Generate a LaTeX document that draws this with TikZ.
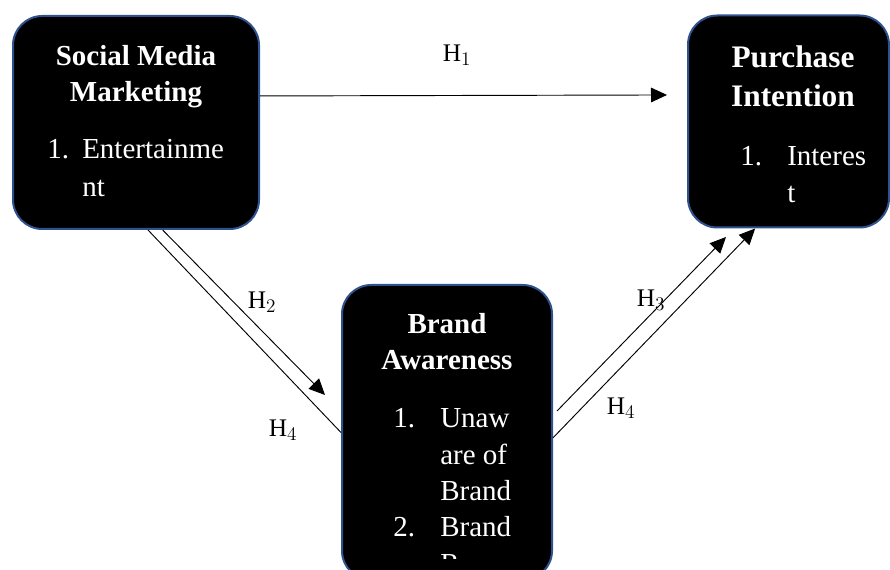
\documentclass[tikz,border=0pt]{standalone}
\usepackage{fontspec}
\setmainfont{Liberation Serif}
\usetikzlibrary{arrows.meta}

\definecolor{boxblue}{RGB}{47,82,143}

\begin{document}
\begin{tikzpicture}[x=0.75pt,y=-0.75pt,
    varbox/.style={draw=boxblue, line width=1.5pt, fill=black, rounded corners=22pt, inner sep=0pt},
    hyp/.style={line width=0.7pt, -{Triangle[length=12pt,width=11pt]}},
    plain/.style={line width=0.7pt},
    title/.style={text=white, inner sep=0pt, anchor=base, font=\fontsize{21.75}{26}\selectfont\bfseries},
    item/.style={text=white, inner sep=0pt, anchor=base west, font=\fontsize{21.75}{26}\selectfont},
    hlab/.style={inner sep=0pt, font=\fontsize{19}{22}\selectfont}]
\clip (0,0) rectangle (890,570);

% Social Media Marketing
\node[varbox, minimum width=184.5pt, minimum height=159.75pt] (smm) at (136,122.5) {};
\node[title] (smmA) at (136,66) {Social Media};
\node[title] (smmB) at (136,102) {Marketing};
\node[item] (smmN) at (47,159) {1.};
\node[item] (smmC) at (82,159) {Entertainme};
\node[item] (smmD) at (82,197) {nt};

% Purchase Intention
\node[varbox, minimum width=150.75pt, minimum height=159pt] (pi) at (788.5,121.5) {};
\node[title, font=\fontsize{23.5}{28}\selectfont\bfseries] (piA) at (793,68) {Purchase};
\node[title, font=\fontsize{23.5}{28}\selectfont\bfseries] (piB) at (793,107) {Intention};
\node[item] (piN) at (740,166) {1.};
\node[item] (piC) at (787,166) {Interes};
\node[item] (piD) at (787,203) {t};

% Brand Awareness
\node[varbox, minimum width=157.5pt, minimum height=221.25pt] (ba) at (447,432.5) {};
\node[title] (baA) at (447,334) {Brand};
\node[title] (baB) at (447,370) {Awareness};
\node[item] (baN1) at (393,428) {1.};
\node[item] (baC) at (440,428) {Unaw};
\node[item] (baD) at (440,465) {are of};
\node[item] (baE) at (440,501) {Brand};
\node[item] (baN2) at (393,537) {2.};
\node[item] (baF) at (440,537) {Brand};
\begin{scope}
    \clip (342,285) rectangle (552,558);
    \node[item] (baG) at (440,573) {R};
\end{scope}

% Verbindungen
\coordinate (h2tip) at (325,395);
\coordinate (h3a) at (557,411);
\coordinate (h3tip) at (726,237);
\draw[hyp] ([yshift=19.9pt]smm.east) -- ([yshift=19.9pt,xshift=-15pt]pi.west);
\draw[hyp] ([xshift=20pt]smm.south) -- (h2tip);
\draw[plain] ([xshift=9pt]smm.south) -- (ba.west);
\draw[hyp] (h3a) -- (h3tip);
\draw[hyp] ([yshift=-4pt]ba.east) -- ([xshift=-25pt]pi.south);

% Hypothesen
\node[hlab] (h1) at (457,55) {$\mathrm{H}_1$};
\node[hlab] (h2) at (262,302) {$\mathrm{H}_2$};
\node[hlab] (h4a) at (283,430) {$\mathrm{H}_4$};
\node[hlab] (h3) at (651,300) {$\mathrm{H}_3$};
\node[hlab] (h4b) at (621,408) {$\mathrm{H}_4$};
\end{tikzpicture}
\end{document}
